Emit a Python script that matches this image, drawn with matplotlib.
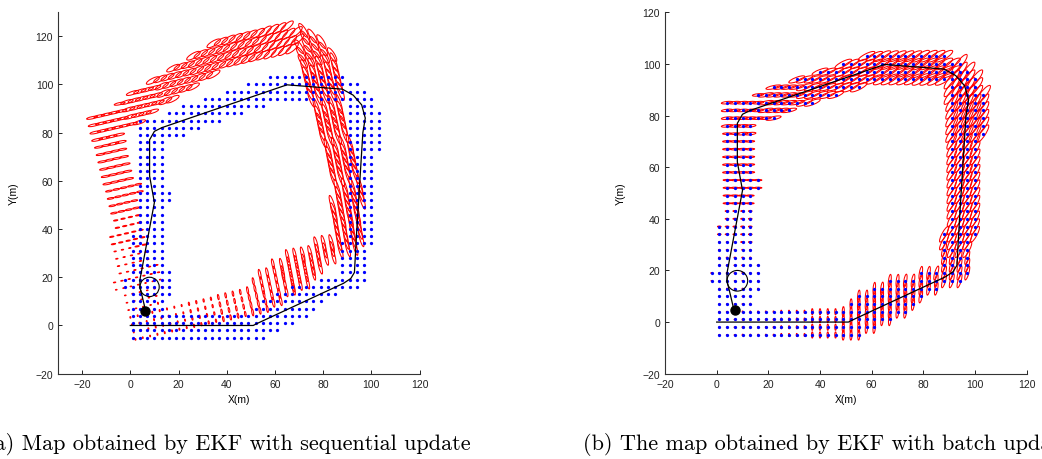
import numpy as np
import matplotlib
matplotlib.use("Agg")
import matplotlib.pyplot as plt
from matplotlib.patches import Ellipse, Circle
from matplotlib.collections import PatchCollection

# ---------------------------------------------------------------------------
# True landmark map: 3 m lattice, '#' marks a landmark.
# Column 0 is x = -2 m, row 0 is y = 103 m.
grid_x0 = -2.0
grid_y_top = 103.0
grid_step = 3.0
landmark_rows = [
    "....................###########.....",   # 103
    ".................################...",   # 100
    "..............####################..",   #  97
    "...........########################.",   #  94
    "........############...........####.",   #  91
    "......###########..............#####",   #  88
    "..############.................#####",   #  85
    "..#########....................#####",   #  82
    "..#######......................#####",   #  79
    "..####.........................#####",   #  76
    "..####.........................#####",   #  73
    "..####.........................####.",   #  70
    "..####.........................####.",   #  67
    "..####.........................####.",   #  64
    "..####.........................####.",   #  61
    "..####.........................####.",   #  58
    "..#####........................####.",   #  55
    "..#####........................####.",   #  52
    "..####.........................####.",   #  49
    "..####.........................####.",   #  46
    "..####.........................####.",   #  43
    "..####.........................####.",   #  40
    ".#####.........................####.",   #  37
    ".#####........................#####.",   #  34
    ".#####........................####..",   #  31
    ".#####........................####..",   #  28
    ".#####........................####..",   #  25
    ".######.......................####..",   #  22
    "#######....................#######..",   #  19
    "#######................##########...",   #  16
    ".######..............#########......",   #  13
    ".#####.............#########........",   #  10
    ".#####............#########.........",   #   7
    ".#########################..........",   #   4
    ".#######################............",   #   1
    ".#####################..............",   #  -2
    ".###################................",   #  -5
]

# Vehicle trajectory (m)
path_x = [0, 51, 53, 88.5, 91.5, 93, 94, 96.5, 97.5, 96, 92.5, 88, 65, 13, 10, 8, 8, 10, 4, 4, 6.5]
path_y = [0, 0, 1, 17.5, 19.5, 22, 40, 80, 86, 91.5, 95.5, 98, 99.8, 82, 80.5, 77, 62, 51, 19, 16, 5.5]

# Final vehicle position of each run
robot_seq = (6.2, 5.9)
robot_batch = (7.1, 4.5)

# Loop-closure region
circle_center = (8.0, 16.0)
circle_radius = 4.0

# Stations along the trajectory; each landmark takes the covariance
# ellipse of the station nearest to it.
station_x = [0, 15, 30, 42, 50, 60, 70, 80, 90, 94, 95, 96, 97, 95, 85, 70, 55, 40, 25, 12, 8, 9, 7, 5, 5]
station_y = [0, 0, 0, 0, 0, 4, 8, 13, 19, 35, 50, 65, 80, 92, 98, 99, 96, 91, 86, 80, 65, 50, 38, 25, 12]

# Sequential update: semi-axes (m), orientation (deg), drift of the estimated map
seq_a = [0.35, 0.45, 0.7, 1.1, 1.5, 2.1, 2.7, 3.2, 3.7, 4.1, 4.3, 4.3, 4.0, 3.3, 3.3, 3.3, 3.2, 3.0, 2.7, 2.3, 1.8, 1.4, 0.9, 0.5, 0.35]
seq_b = [0.2, 0.2, 0.25, 0.3, 0.35, 0.45, 0.5, 0.6, 0.65, 0.75, 0.8, 0.85, 0.9, 1.0, 1.05, 1.05, 1.0, 0.9, 0.65, 0.45, 0.35, 0.3, 0.22, 0.15, 0.15]
seq_ang = [100, 100, 100, 100, 100, 102, 103, 104, 105, 107, 108, 108, 110, 122, 40, 33, 30, 27, 18, 12, 10, 10, 10, 10, 10]
seq_rot = [13, 13, 13, 13, 13, 12, 11, 10.5, 10, 10, 11, 12, 13, 13, 13, 13, 13, 13, 13, 13, 13, 13, 13, 13, 13]
seq_scale = [1.04] * 25
seq_pivot = (4.0, 0.0)

# Batch update: semi-axes (m), orientation (deg)
bat_a = [0.25, 0.3, 0.6, 1.2, 2.0, 2.4, 2.5, 2.6, 2.8, 3.4, 3.5, 3.5, 4.0, 4.6, 3.9, 3.8, 3.6, 3.3, 3.0, 2.2, 1.7, 1.5, 0.7, 0.3, 0.2]
bat_b = [0.15, 0.15, 0.2, 0.3, 0.4, 0.45, 0.5, 0.55, 0.6, 0.8, 0.85, 0.9, 1.0, 1.15, 1.1, 1.05, 0.95, 0.8, 0.6, 0.45, 0.3, 0.25, 0.2, 0.15, 0.1]
bat_ang = [0, 90, 90, 90, 88, 85, 83, 80, 74, 62, 61, 60, 57, 52, 32, 30, 27, 21, 12, 6, 2, 0, 0, 0, 0]

captions = ["(a) Map obtained by EKF with sequential update",
            "(b) The map obtained by EKF with batch update"]


def landmark_xy():
    xs, ys = [], []
    for r, row in enumerate(landmark_rows):
        for c, ch in enumerate(row):
            if ch == "#":
                xs.append(grid_x0 + c * grid_step)
                ys.append(grid_y_top - r * grid_step)
    return np.array(xs), np.array(ys)


lx, ly = landmark_xy()
sx, sy = np.array(station_x, float), np.array(station_y, float)
nearest = np.argmin((lx[:, None] - sx[None, :]) ** 2 + (ly[:, None] - sy[None, :]) ** 2, axis=1)


def drifted(px, py, k):
    th = np.deg2rad(np.array(seq_rot, float)[k])
    s = np.array(seq_scale, float)[k]
    dx, dy = px - seq_pivot[0], py - seq_pivot[1]
    ex = seq_pivot[0] + s * (np.cos(th) * dx - np.sin(th) * dy)
    ey = seq_pivot[1] + s * (np.sin(th) * dx + np.cos(th) * dy)
    return ex, ey


def style_axes(ax, xlim, ylim, xticks, yticks):
    ax.set_xlim(*xlim)
    ax.set_ylim(*ylim)
    ax.set_xticks(xticks)
    ax.set_yticks(yticks)
    for side in ("top", "right"):
        ax.spines[side].set_visible(False)
    for side in ("left", "bottom"):
        ax.spines[side].set_color("#333333")
        ax.spines[side].set_linewidth(0.8)
    ax.tick_params(direction="in", length=3, width=0.7, colors="#222222",
                   labelsize=7.5, pad=3.5)
    for lab in ax.get_xticklabels() + ax.get_yticklabels():
        lab.set_fontfamily("Liberation Sans")
    ax.set_xlabel("X(m)", fontsize=7.5, family="Liberation Sans", labelpad=4)
    ax.set_ylabel("Y(m)", fontsize=7.5, family="Liberation Sans", labelpad=12)


def draw_map(ax, ex, ey, a, b, ang, robot):
    a = np.array(a, float)[nearest]
    b = np.array(b, float)[nearest]
    ang = np.array(ang, float)[nearest]
    patches = [Ellipse((x, y), 2 * aa, 2 * bb, angle=g)
               for x, y, aa, bb, g in zip(ex, ey, a, b, ang)]
    ax.add_collection(PatchCollection(patches, facecolor="none", edgecolor="red",
                                      linewidth=0.75, zorder=2))
    ax.scatter(lx, ly, s=5.5, c="blue", marker="o", linewidths=0, zorder=3)
    ax.plot(path_x, path_y, color="black", lw=0.9, zorder=4)
    ax.add_patch(Circle(circle_center, circle_radius, fill=False, ec="black", lw=0.8, zorder=4))
    ax.plot([robot[0]], [robot[1]], "o", color="black", ms=6.5, zorder=5)


fig = plt.figure(figsize=(10.42, 4.6), dpi=100)
W, H = 1042.0, 460.0

ax1 = fig.add_axes([58 / W, (H - 374.7) / H, 361.5 / W, 361.7 / H])
ex, ey = drifted(lx, ly, nearest)
draw_map(ax1, ex, ey, seq_a, seq_b, seq_ang, robot_seq)
style_axes(ax1, (-30, 120), (-20, 130), np.arange(-20, 121, 20), np.arange(-20, 121, 20))

ax2 = fig.add_axes([665 / W, (H - 374.7) / H, 361.7 / W, 361.4 / H])
draw_map(ax2, lx, ly, bat_a, bat_b, bat_ang, robot_batch)
style_axes(ax2, (-20, 120), (-20, 120), np.arange(-20, 121, 20), np.arange(-20, 121, 20))

fig.text(471 / W, 1 - 445 / H, captions[0], ha="right", va="center",
         fontfamily="cmr10", fontsize=16)
fig.text(583 / W, 1 - 445 / H, captions[1], ha="left", va="center",
         fontfamily="cmr10", fontsize=16)

fig.savefig("out.png", dpi=100)
